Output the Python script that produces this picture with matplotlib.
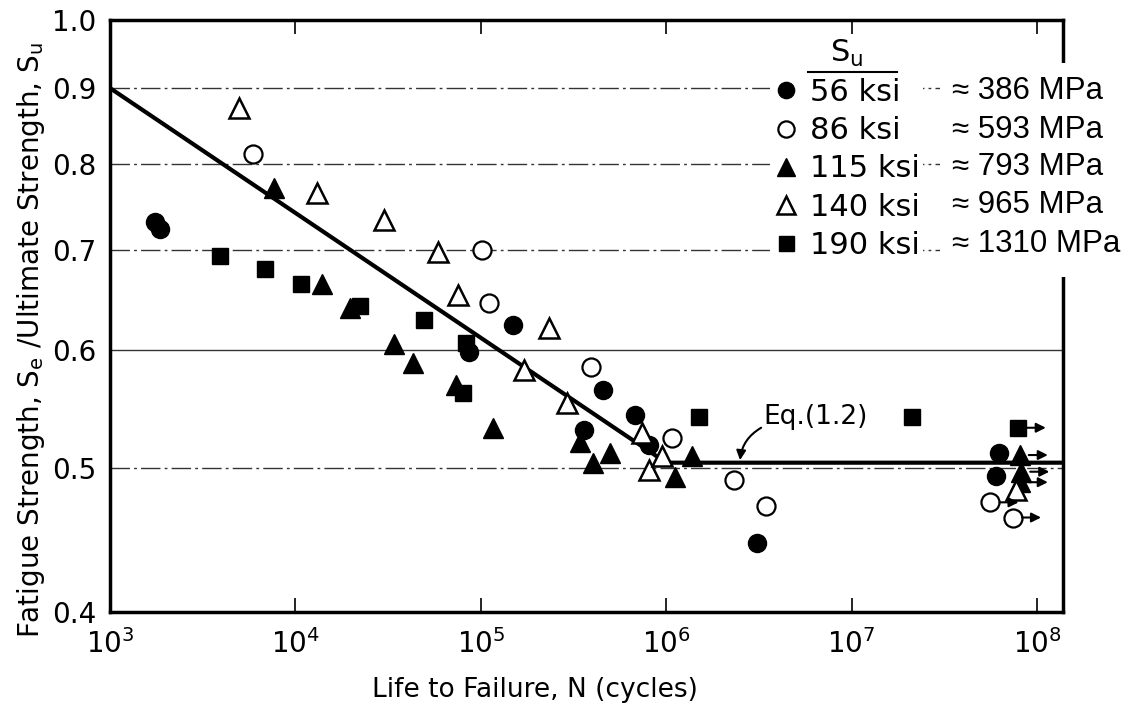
import matplotlib
matplotlib.use("Agg")
import matplotlib.pyplot as plt
from matplotlib.patches import Rectangle
from matplotlib.ticker import FixedLocator, FixedFormatter, NullLocator

plt.rcParams['font.family'] = ['DejaVu Sans']

# fatigue data, S_e/S_u vs cycles to failure, grouped by ultimate strength
su_ksi = ['56 ksi', '86 ksi', '115 ksi', '140 ksi', '190 ksi']
su_mpa = ['≈ 386 MPa', '≈ 593 MPa', '≈ 793 MPa', '≈ 965 MPa', '≈ 1310 MPa']

n_56 = [1.75e3, 1.85e3, 8.6e4, 1.5e5, 3.6e5, 4.57e5, 6.76e5, 8.1e5, 3.1e6, 6.2e7, 6.0e7]
s_56 = [0.731, 0.724, 0.598, 0.624, 0.530, 0.564, 0.543, 0.518, 0.445, 0.512, 0.494]

n_86 = [5.9e3, 1.01e5, 1.1e5, 3.93e5, 1.08e6, 2.33e6, 3.46e6, 5.6e7, 7.4e7]
s_86 = [0.813, 0.700, 0.645, 0.584, 0.524, 0.491, 0.471, 0.474, 0.463]

n_115 = [7.7e3, 1.39e4, 1.96e4, 3.41e4, 4.31e4, 7.35e4, 1.17e5, 3.44e5, 4.04e5,
         4.98e5, 1.12e6, 1.38e6, 8.05e7, 8.2e7, 8.05e7]
s_115 = [0.771, 0.665, 0.640, 0.606, 0.588, 0.568, 0.532, 0.520, 0.504,
         0.512, 0.493, 0.509, 0.510, 0.497, 0.489]

n_140 = [4.98e3, 1.30e4, 3.02e4, 5.87e4, 7.5e4, 1.70e5, 2.32e5, 2.93e5, 7.4e5,
         8.1e5, 9.5e5, 7.7e7]
s_140 = [0.873, 0.765, 0.734, 0.698, 0.653, 0.582, 0.621, 0.553, 0.528,
         0.498, 0.509, 0.483]

n_190 = [3.93e3, 6.86e3, 1.07e4, 2.22e4, 4.96e4, 8.3e4, 8.0e4, 1.51e6, 2.12e7, 7.85e7]
s_190 = [0.694, 0.680, 0.665, 0.642, 0.629, 0.607, 0.561, 0.541, 0.541, 0.532]

# run-outs (no failure), drawn with arrows
runout_n = [7.85e7, 8.05e7, 8.2e7, 8.05e7, 5.6e7, 7.4e7]
runout_s = [0.532, 0.510, 0.497, 0.489, 0.474, 0.463]

# Eq. (1.2) fit line
fit_n = [1e3, 1e6, 1.38e8]
fit_s = [0.9, 0.504, 0.504]

grid_vals = [0.5, 0.6, 0.7, 0.8, 0.9]
y_ticks = [0.4, 0.5, 0.6, 0.7, 0.8, 0.9, 1.0]
y_labels = ['0.4', '0.5', '0.6', '0.7', '0.8', '0.9', '1.0']

fig = plt.figure(figsize=(11.27, 7.11), dpi=100)
ax = fig.add_axes([110 / 1127, 99 / 711, 953 / 1127, 592 / 711])
ax.set_xscale('log')
ax.set_yscale('log')
ax.set_xlim(1e3, 1.38e8)
ax.set_ylim(0.4, 1.0)

dash = (0, (14, 3, 2, 3))
for g in grid_vals:
    ls = '-' if g == 0.6 else dash
    ax.axhline(g, color='#333333', lw=1.0, ls=ls, zorder=1)

ax.plot(fit_n, fit_s, color='black', lw=3, zorder=2)

h56, = ax.plot(n_56, s_56, 'o', ms=13, color='black', ls='none', zorder=3)
h86, = ax.plot(n_86, s_86, 'o', ms=13, mfc='white', mec='black', mew=1.6, ls='none', zorder=3)
h115, = ax.plot(n_115, s_115, '^', ms=15, color='black', ls='none', zorder=3)
h140, = ax.plot(n_140, s_140, '^', ms=15, mfc='white', mec='black', mew=1.8, ls='none', zorder=3)
h190, = ax.plot(n_190, s_190, 's', ms=12, color='black', ls='none', zorder=3)

for n, s in zip(runout_n, runout_s):
    ax.annotate('', xy=(n * 1.42, s), xytext=(n * 1.12, s),
                arrowprops=dict(arrowstyle='-|>', color='black', lw=1.5,
                                mutation_scale=14, shrinkA=0, shrinkB=0),
                zorder=4)

ax.annotate('', xy=(2.5e6, 0.506), xytext=(3.25e6, 0.532),
            arrowprops=dict(arrowstyle='-|>', color='black', lw=1.5, mutation_scale=14,
                            connectionstyle='arc3,rad=0.25', shrinkA=0, shrinkB=0))
ax.text(3.35e6, 0.541, 'Eq.(1.2)', fontsize=19, va='center', ha='left')

for sp in ax.spines.values():
    sp.set_linewidth(2.5)

ax.xaxis.set_minor_locator(NullLocator())
ax.yaxis.set_minor_locator(NullLocator())
ax.yaxis.set_major_locator(FixedLocator(y_ticks))
ax.yaxis.set_major_formatter(FixedFormatter(y_labels))
ax.tick_params(axis='x', which='major', direction='in', length=10, width=1.2,
               top=True, labelsize=20, pad=12)
ax.tick_params(axis='y', which='major', length=0, labelsize=20, pad=10)

ax.set_xlabel('Life to Failure, N (cycles)', fontsize=19)
ax.xaxis.set_label_coords(0.446, -0.11)
ax.set_ylabel(r'Fatigue Strength, S$_\mathregular{e}$ /Ultimate Strength, S$_\mathregular{u}$',
              fontsize=20)
ax.yaxis.set_label_coords(-0.066, 0.46)

leg = ax.legend([h56, h86, h115, h140, h190], su_ksi, loc='upper left',
                bbox_to_anchor=(0.693, 0.975), fontsize=22, markerscale=0.9,
                title=r'S$_\mathregular{u}$', title_fontsize=22,
                frameon=True, facecolor='white', edgecolor='none', framealpha=1,
                handlelength=0.8, handletextpad=0.4, labelspacing=0.3,
                borderpad=0.1, borderaxespad=0)
leg.set_zorder(5)
ax.plot([0.732, 0.826], [0.912, 0.912], transform=ax.transAxes, color='black',
        lw=1.5, clip_on=False, zorder=6)

# white block over the right edge for the metric equivalents
fig.patches.append(Rectangle((940 / 1127, 1 - 277 / 711), 187 / 1127, 214 / 711,
                             transform=fig.transFigure, facecolor='white',
                             edgecolor='none', zorder=5))
row_y = [91, 130, 167, 205, 244]
for lab, yp in zip(su_mpa, row_y):
    fig.text(952 / 1127, 1 - yp / 711, lab, fontsize=22.5, family='Liberation Sans',
             va='center', ha='left', zorder=6)

fig.savefig('out.png', dpi=100)
